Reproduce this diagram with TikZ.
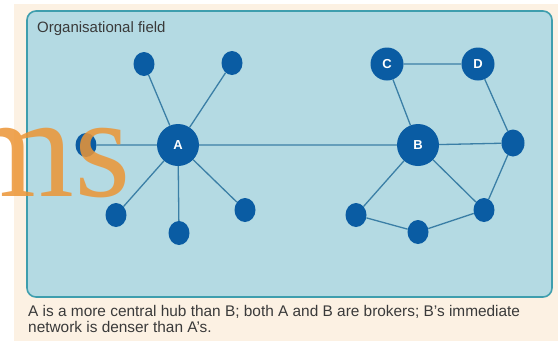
\documentclass[tikz,border=0pt]{standalone}
\usepackage{fontspec}
\setmainfont{Liberation Sans}
\newfontfamily\wmfont{Liberation Serif}
\usetikzlibrary{shapes.geometric}
\definecolor{cream}{HTML}{FCF1E3}
\definecolor{boxfill}{HTML}{B4DAE3}
\definecolor{boxline}{HTML}{3E9EAE}
\definecolor{nodeblue}{HTML}{0A5CA3}
\definecolor{edgeblue}{HTML}{3B7FA6}
\definecolor{txtgray}{HTML}{3A3A3A}
\definecolor{wmorange}{HTML}{EC9535}
\pgfdeclarelayer{bglayer}
\pgfdeclarelayer{edgelayer}
\pgfsetlayers{bglayer,edgelayer,main}
\tikzset{
  hub/.style={circle, fill=nodeblue, minimum size=42pt, inner sep=0pt, text=white, font=\bfseries\fontsize{13}{13}\selectfont},
  mid/.style={circle, fill=nodeblue, minimum size=33pt, inner sep=0pt, text=white, font=\bfseries\fontsize{13}{13}\selectfont},
  leaf/.style={ellipse, fill=nodeblue, minimum width=21pt, minimum height=24pt, inner sep=0pt},
  link/.style={draw=edgeblue, line width=1.3pt},
  captxt/.style={text=txtgray, anchor=base west, inner sep=0pt, font=\fontsize{15.4}{15.4}\selectfont},
}
\begin{document}
\begin{tikzpicture}[x=1pt,y=-1pt]
\useasboundingbox (0,0) rectangle (558,341);
\begin{pgfonlayer}{bglayer}
\fill[white] (0,0) rectangle (558,341);
\fill[cream] (14,4) rectangle (558,341);
\draw[boxline, fill=boxfill, line width=1.6pt, rounded corners=9pt] (27,11) rectangle (552,297);
\end{pgfonlayer}
\node[anchor=base west, text=txtgray, font=\fontsize{15}{15}\selectfont, inner sep=0pt] (title) at (37,32) {Organisational field};
% left cluster
\node[hub] (A) at (178,145) {A};
\node[leaf] (a1) at (144,64) {};
\node[leaf] (a2) at (232,63) {};
\node[leaf] (a3) at (86,145) {};
\node[leaf] (a4) at (116,215) {};
\node[leaf] (a5) at (179,233) {};
\node[leaf] (a6) at (245,210) {};
% right cluster
\node[hub] (B) at (418,145) {B};
\node[mid] (C) at (387,64) {C};
\node[mid] (D) at (478,64) {D};
\node[leaf, minimum width=23pt, minimum height=27pt] (b1) at (513,143) {};
\node[leaf] (b2) at (484,210) {};
\node[leaf] (b3) at (418,232) {};
\node[leaf] (b4) at (356,215) {};
\begin{pgfonlayer}{edgelayer}
\path[link] (A) -- (a1) (A) -- (a2) (A) -- (a3) (A) -- (a4) (A) -- (a5) (A) -- (a6)
  (A) -- (B) (B) -- (C) (C) -- (D) (D) -- (b1) (B) -- (b1) (b1) -- (b2) (B) -- (b2)
  (B) -- (b4) (b4) -- (b3) (b3) -- (b2);
\end{pgfonlayer}
\node[captxt] (cap1) at (28,316) {A is a more central hub than B; both A and B are brokers; B's immediate};
\node[captxt] (cap2) at (28,332) {network is denser than A's.};
\node[text=wmorange, opacity=0.85, anchor=base east, inner sep=0pt, font=\wmfont\fontsize{145}{145}\selectfont] (wm) at (131,196) {ms};
\end{tikzpicture}
\end{document}
